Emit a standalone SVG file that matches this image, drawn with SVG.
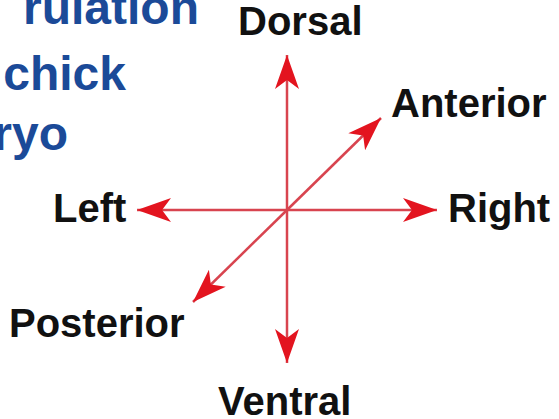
<svg xmlns="http://www.w3.org/2000/svg" width="559" height="419" viewBox="0 0 559 419">
<style>
.lbl{font-family:"Liberation Sans",Arial,sans-serif;font-weight:bold;font-size:40px;fill:#111}
.ttl{font-family:"Liberation Sans",Arial,sans-serif;font-weight:bold;font-size:48px;fill:#1b4a98;text-anchor:end}
.ax{stroke:#d8444f;stroke-width:2.5;fill:none;marker-end:url(#ah)}
</style>
<defs>
<marker id="ah" viewBox="-36 -14 40 28" markerWidth="40" markerHeight="28" refX="0" refY="0" orient="auto" markerUnits="userSpaceOnUse">
<path d="M0,0 L-34,-12 L-25,0 L-34,12 Z" fill="#e3141f"/>
</marker>
</defs>
<rect width="559" height="419" fill="#fff"/>
<g id="title">
<text class="ttl" x="199" y="24">rulation</text>
<text class="ttl" x="126" y="90">chick</text>
<text class="ttl" x="68" y="150">ryo</text>
</g>
<g id="connectors">
<line class="ax" x1="287" y1="210" x2="287" y2="55"/>
<line class="ax" x1="287" y1="210" x2="287" y2="363"/>
<line class="ax" x1="287" y1="210" x2="137" y2="210"/>
<line class="ax" x1="287" y1="210" x2="437" y2="210"/>
<line class="ax" x1="287" y1="210" x2="381" y2="118"/>
<line class="ax" x1="287" y1="210" x2="193" y2="302"/>
</g>
<g id="dorsal"><text class="lbl" x="238" y="35">Dorsal</text></g>
<g id="anterior"><text class="lbl" x="391" y="117">Anterior</text></g>
<g id="left"><text class="lbl" x="53" y="222">Left</text></g>
<g id="right"><text class="lbl" x="448" y="222">Right</text></g>
<g id="posterior"><text class="lbl" x="9" y="337">Posterior</text></g>
<g id="ventral"><text class="lbl" x="218" y="415">Ventral</text></g>
</svg>
